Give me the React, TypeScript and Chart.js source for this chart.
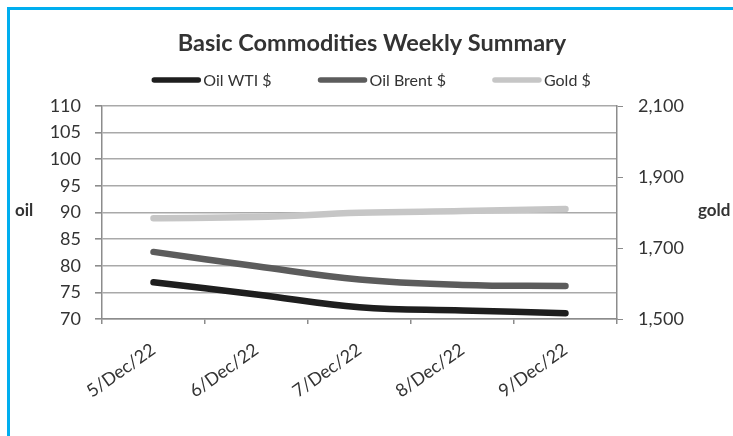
import React, { useEffect, useRef } from "react";
import { Chart, registerables } from "chart.js";

Chart.register(...registerables);

// ---- data ----
const categories = ["5/Dec/22", "6/Dec/22", "7/Dec/22", "8/Dec/22", "9/Dec/22"];
const seriesNames = ["Oil WTI $", "Oil Brent $", "Gold $"];
const oilWti = [76.9, 74.6, 72.2, 71.6, 71.1];
const oilBrent = [82.6, 79.9, 77.4, 76.4, 76.2];
const gold = [1784, 1787, 1799, 1804, 1810];
const oilAxis = [70, 110, 5]; // min, max, step
const goldAxis = [1500, 2100, 200]; // min, max, step
const chartTitle = "Basic Commodities Weekly Summary";
const leftTitle = "oil";
const rightTitle = "gold";

const FONT = "Lato";
const TEXT = "#333333";
const AXIS = "#8c8c8c";
const GRID = "#a9a9a9";
const colors = ["#1e1e1e", "#5c5c5c", "#c6c6c6"];

const extras = {
  id: "extras",
  afterDraw(chart: any) {
    const ctx = chart.ctx;
    const { top, bottom } = chart.chartArea;
    const ys = chart.scales.y;
    const y1 = chart.scales.y1;
    ctx.save();
    // horizontal axis titles
    ctx.font = `bold 17px ${FONT}`;
    ctx.fillStyle = TEXT;
    ctx.textBaseline = "middle";
    ctx.textAlign = "left";
    const midY = (top + bottom) / 2 - 2;
    ctx.fillText(leftTitle, ys.left - 35, midY);
    ctx.fillText(rightTitle, y1.right + 4, midY);

    // legend
    ctx.font = `16px ${FONT}`;
    const sw = 50, gap = 2, itemGap = 46;
    const items = chart.data.datasets.map((d: any) => ({
      label: d.label,
      color: d.borderColor,
      w: sw + gap + ctx.measureText(d.label).width,
    }));
    const total = items.reduce((s: number, it: any) => s + it.w, 0) + itemGap * (items.length - 1);
    let x = (ys.left + y1.right) / 2 - 1 - total / 2;
    const ly = top - 26;
    for (const it of items) {
      ctx.strokeStyle = it.color;
      ctx.lineWidth = 5.5;
      ctx.lineCap = "round";
      ctx.beginPath();
      ctx.moveTo(x + 3, ly);
      ctx.lineTo(x + sw - 3, ly);
      ctx.stroke();
      ctx.fillStyle = TEXT;
      ctx.textAlign = "left";
      ctx.fillText(it.label, x + sw + gap, ly + 1);
      x += it.w + itemGap;
    }
    ctx.restore();
  },
};

export default function App() {
  const ref = useRef<HTMLCanvasElement>(null);
  useEffect(() => {
    const values = [oilWti, oilBrent, gold];
    const chart = new Chart(ref.current!, {
      type: "line",
      data: {
        labels: categories,
        datasets: seriesNames.map((name, i) => ({
          label: name,
          data: values[i],
          borderColor: colors[i],
          backgroundColor: colors[i],
          borderWidth: 6.5,
          borderCapStyle: "round" as const,
          borderJoinStyle: "round" as const,
          pointRadius: 0,
          tension: 0.4,
          yAxisID: i === 2 ? "y1" : "y",
          order: 2 - i,
        })),
      },
      options: {
        responsive: false,
        animation: false,
        devicePixelRatio: 1,
        layout: { padding: { left: 50, right: 39, top: 19, bottom: 0 } },
        plugins: {
          legend: { display: false },
          tooltip: { enabled: false },
          title: {
            display: true,
            text: chartTitle,
            color: TEXT,
            font: { family: FONT, size: 23.5, weight: "bold" },
            padding: { top: 10, bottom: 48.8 },
          },
        },
        scales: {
          x: {
            offset: true,
            grid: {
              offset: true,
              drawOnChartArea: false,
              drawTicks: true,
              tickLength: 5,
              tickColor: AXIS,
              lineWidth: 1.5,
            },
            border: { display: true, color: AXIS, width: 1.5 },
            ticks: {
              color: TEXT,
              font: { family: FONT, size: 18 },
              minRotation: 35,
              maxRotation: 35,
              padding: 15,
              autoSkip: false,
            },
            afterFit: (s: any) => {
              s.height = 117;
            },
          },
          y: {
            position: "left",
            min: oilAxis[0],
            max: oilAxis[1],
            grid: {
              color: GRID,
              lineWidth: 1.6,
              tickLength: 7,
              tickColor: AXIS,
            },
            border: { display: true, color: AXIS, width: 1.5 },
            ticks: {
              stepSize: oilAxis[2],
              color: TEXT,
              font: { family: FONT, size: 18 },
              padding: 14,
            },
            afterFit: (s: any) => {
              s.width = 52;
            },
          },
          y1: {
            position: "right",
            min: goldAxis[0],
            max: goldAxis[1],
            grid: {
              drawOnChartArea: false,
              tickLength: 6,
              tickColor: AXIS,
            },
            border: { display: true, color: AXIS, width: 1.5 },
            ticks: {
              stepSize: goldAxis[2],
              color: TEXT,
              font: { family: FONT, size: 18 },
              padding: 15,
              callback: (v: any) => Number(v).toLocaleString("en-US"),
            },
            afterFit: (s: any) => {
              s.width = 77;
            },
          },
        },
      },
      plugins: [extras],
    });
    return () => chart.destroy();
  }, []);

  return (
    <div
      style={{
        position: "fixed",
        left: 0,
        top: 0,
        width: 733,
        height: 436,
        background: "#ffffff",
        overflow: "hidden",
      }}
    >
      <div
        style={{
          position: "absolute",
          left: 7,
          top: 7,
          right: -10,
          bottom: -10,
          borderTop: "3px solid #00aeef",
          borderLeft: "3px solid #00aeef",
        }}
      />
      <canvas
        ref={ref}
        width={733}
        height={436}
        style={{ position: "absolute", left: 0, top: 0, width: 733, height: 436 }}
      />
    </div>
  );
}
